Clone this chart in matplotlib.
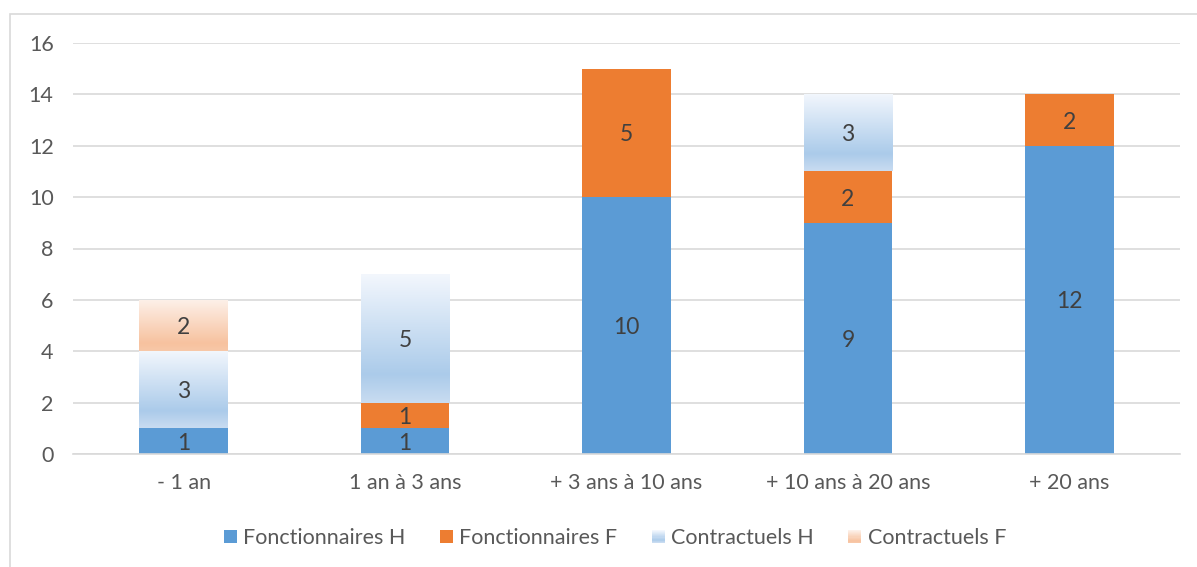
import numpy as np
import matplotlib.pyplot as plt
from matplotlib.colors import LinearSegmentedColormap
from matplotlib.patches import Rectangle
from matplotlib.legend_handler import HandlerBase

plt.rcParams['font.family'] = ['Lato', 'DejaVu Sans']

categories = ['- 1 an', '1 an à 3 ans', '+ 3 ans à 10 ans', '+ 10 ans à 20 ans', '+ 20 ans']
fonct_h = [1, 1, 10, 9, 12]
fonct_f = [0, 1, 5, 2, 2]
contr_h = [3, 5, 0, 3, 0]
contr_f = [2, 0, 0, 0, 0]
series_names = ['Fonctionnaires H', 'Fonctionnaires F', 'Contractuels H', 'Contractuels F']

BLUE = '#5B9BD5'
ORANGE = '#ED7D31'
# gradient stops, top -> bottom
grad_h = [(0.0, '#f3f7fd'), (0.78, '#abcbea'), (1.0, '#c9dcf1')]
grad_f = [(0.0, '#fdf1ea'), (0.85, '#f7c29f'), (1.0, '#f8c8a8')]


def make_cmap(stops):
    return LinearSegmentedColormap.from_list('g', stops)


cmap_h = make_cmap(grad_h)
cmap_f = make_cmap(grad_f)


class GradHandler(HandlerBase):
    def __init__(self, cmap):
        super().__init__()
        self.cmap = cmap

    def create_artists(self, legend, orig, xd, yd, width, height, fontsize, trans):
        n = 12
        size = width
        y0 = yd + (height - size) / 2
        arts = []
        for i in range(n):
            c = self.cmap(1 - i / (n - 1))
            r = Rectangle((xd, y0 + i * size / n), size, size / n + 0.2,
                          facecolor=c, edgecolor='none', transform=trans)
            arts.append(r)
        return arts


class SquareHandler(HandlerBase):
    def create_artists(self, legend, orig, xd, yd, width, height, fontsize, trans):
        size = width
        y0 = yd + (height - size) / 2
        return [Rectangle((xd, y0), size, size, facecolor=orig.get_facecolor(),
                          edgecolor='none', transform=trans)]


fig = plt.figure(figsize=(11.97, 5.67), dpi=100)
fig.patches.append(Rectangle((10 / 1197, -0.1), 1.2, 1 - 14 / 567 + 0.1,
                             transform=fig.transFigure, fill=False,
                             edgecolor='#d9d9d9', linewidth=1.2))
ax = fig.add_axes([73 / 1197, 113 / 567, (1180 - 73) / 1197, (454 - 43) / 567])

x = np.arange(len(categories))
w = 0.4
bottom = np.zeros(len(categories))

bars_h = ax.bar(x, fonct_h, w, bottom=bottom, color=BLUE, zorder=2, label=series_names[0])
bottom += fonct_h
bars_f = ax.bar(x, fonct_f, w, bottom=bottom, color=ORANGE, zorder=2, label=series_names[1])
bottom += fonct_f
bars_ch = ax.bar(x, contr_h, w, bottom=bottom, color='none', zorder=2, label=series_names[2])
bottom += contr_h
bars_cf = ax.bar(x, contr_f, w, bottom=bottom, color='none', zorder=2, label=series_names[3])

grad = np.linspace(0, 1, 256).reshape(-1, 1)
for bars, cmap in [(bars_ch, cmap_h), (bars_cf, cmap_f)]:
    for b in bars:
        if b.get_height() <= 0:
            continue
        x0, y0 = b.get_x(), b.get_y()
        im = ax.imshow(grad, cmap=cmap, aspect='auto', origin='upper',
                       extent=[x0, x0 + b.get_width(), y0, y0 + b.get_height()],
                       zorder=2, interpolation='bilinear')
        im.set_clip_path(b)

# value labels
for bars, vals in [(bars_h, fonct_h), (bars_f, fonct_f), (bars_ch, contr_h), (bars_cf, contr_f)]:
    for b, v in zip(bars, vals):
        if v == 0:
            continue
        ax.text(b.get_x() + b.get_width() / 2, b.get_y() + v / 2, str(v),
                ha='center', va='center_baseline', fontsize=16.5, color='#404040', zorder=3)

ax.set_xlim(-0.5, len(categories) - 0.5)
ax.set_ylim(0, 16)
ax.set_yticks(range(0, 17, 2))
ax.set_xticks(x)
ax.set_xticklabels(categories)
ax.tick_params(axis='both', length=0, labelsize=15.5, labelcolor='#595959')
ax.tick_params(axis='x', pad=14)
ax.tick_params(axis='y', pad=14)
ax.grid(axis='y', color='#d9d9d9', linewidth=1.2, zorder=0)
ax.set_axisbelow(True)
for s in ['top', 'right', 'left']:
    ax.spines[s].set_visible(False)
ax.spines['bottom'].set_color('#d9d9d9')
ax.spines['bottom'].set_linewidth(1.2)

handles = [bars_h[0], bars_f[0], bars_ch[0], bars_cf[0]]
fig.legend(handles, series_names, loc='center', ncol=4, frameon=False,
           bbox_to_anchor=(615 / 1197, 1 - 538 / 567), fontsize=15.5,
           labelcolor='#595959', handlelength=0.6, handletextpad=0.3,
           columnspacing=1.6,
           handler_map={bars_h[0]: SquareHandler(), bars_f[0]: SquareHandler(),
                        bars_ch[0]: GradHandler(cmap_h), bars_cf[0]: GradHandler(cmap_f)})

fig.savefig('out.png', dpi=100)
